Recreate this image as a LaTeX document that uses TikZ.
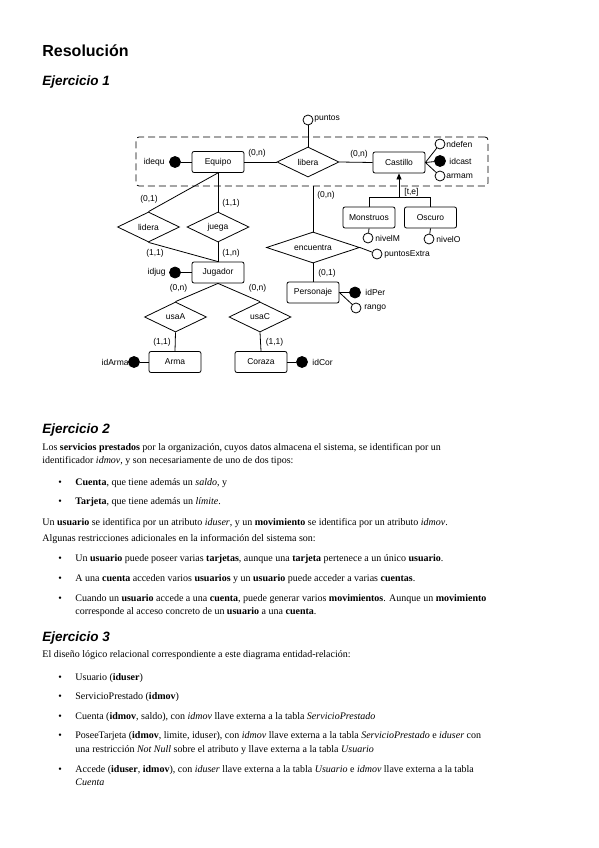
\documentclass[tikz,border=0pt]{standalone}
\usepackage{fontspec}
\setmainfont{Liberation Serif}
\newfontfamily\dsans{Liberation Sans}
\usetikzlibrary{shapes.geometric,arrows.meta}
\begin{document}
\begin{tikzpicture}[x=1pt,y=-1pt,
  every node/.style={inner sep=0pt},
  dg/.style={font=\dsans\fontsize{8.5}{10}\selectfont},
  ent/.style={dg,draw,rounded corners=2pt,minimum width=52pt,minimum height=21pt},
  rel/.style={dg,draw,diamond,aspect=3,minimum width=62pt,minimum height=30pt},
  attr/.style={draw,circle,minimum size=10pt,fill=white},
  key/.style={draw,circle,minimum size=11pt,fill=black},
  lab/.style={dg,anchor=west},
  card/.style={dg},
  body/.style={anchor=base west,font=\fontsize{10}{12}\selectfont},
  bul/.style={anchor=base west,font=\fontsize{10}{12}\selectfont},
  ttl/.style={anchor=base west,font=\dsans\bfseries\fontsize{16}{18}\selectfont},
  sttl/.style={anchor=base west,font=\dsans\bfseries\itshape\fontsize{13.5}{16}\selectfont},
  line width=0.8pt]
\useasboundingbox (0,0) rectangle (599,848);
\fill[white] (0,0) rectangle (599,848);

\node[ttl] (t0) at (42,57) {Resolución};
\node[sttl] (t1) at (42,86) {Ejercicio 1};

% aggregation box
\node[draw,dashed,dash pattern=on 7pt off 4pt,rounded corners=3pt,minimum width=352pt,minimum height=49pt] (agg) at (312,161.5) {};

% entities
\node[ent] (equ) at (218,162) {Equipo};
\node[ent] (cas) at (399,162.5) {Castillo};
\node[ent] (mon) at (369,217.5) {Monstruos};
\node[ent] (osc) at (430.5,217.5) {Oscuro};
\node[ent] (jug) at (218,272.5) {Jugador};
\node[ent] (per) at (313,292.5) {Personaje};
\node[ent] (arm) at (175,362) {Arma};
\node[ent] (cor) at (261,362) {Coraza};

% relationships
\node[rel] (lib) at (308,162) {libera};
\node[rel] (lid) at (148.5,227) {lidera};
\node[rel] (jue) at (218,227) {juega};
\node[rel,minimum width=93pt,minimum height=31pt] (enc) at (313,247.5) {encuentra};
\node[rel] (usa) at (175.5,317) {usaA};
\node[rel] (usc) at (260,317) {usaC};

% attributes
\node[attr] (pun) at (308,120) {};
\node[lab] at (314,119) {puntos};
\node[key] (ideq) at (175,162) {};
\node[dg,anchor=east] at (165,162) {idequ};
\node[attr] (ndef) at (440,144) {};
\node[lab] at (446,144) {ndefen};
\node[key] (idca) at (440,161) {};
\node[lab] at (449,161) {idcast};
\node[attr] (arma) at (440,176) {};
\node[lab] at (446,176) {armam};
\node[attr] (nvm) at (368,238) {};
\node[lab] at (375,238) {nivelM};
\node[attr] (nvo) at (429,239) {};
\node[lab] at (436,239) {nivelO};
\node[attr] (pex) at (377,254) {};
\node[lab] at (384,254) {puntosExtra};
\node[key] (idpe) at (355,292.5) {};
\node[lab] at (365,292.5) {idPer};
\node[attr] (ran) at (356,308) {};
\node[lab] at (364,308) {rango};
\node[key] (idju) at (175,272.5) {};
\node[dg,anchor=east] at (166,272.5) {idjug};
\node[key] (idar) at (134,362) {};
\node[dg,anchor=east] at (129,362) {idArma};
\node[key] (idco) at (302,362) {};
\node[lab] at (312,362) {idCor};

% connectors
\draw (pun) -- (lib.north);
\draw (ideq) -- (equ.west);
\draw (equ.east) -- (lib.west);
\draw (lib.east) -- (cas.west);
\draw (cas.east) -- (ndef);
\draw (cas.east) -- (idca);
\draw (cas.east) -- (arma);
\node[card] at (257,153) {(0,n)};
\node[card] at (359,154) {(0,n)};

\coordinate (isa) at (399,197.5);
\draw[-{Triangle[length=6pt,width=5pt]}] (isa) -- (cas.south);
\draw (mon.north) -- (mon.north |- isa) -- (osc.north |- isa) -- (osc.north);
\node[dg,anchor=west] at (404,192) {[t,e]};
\draw (mon.south) -- (nvm);
\draw (osc.south) -- (nvo);

\draw (enc.north) -- (enc.north |- agg.south);
\node[card] at (326,195) {(0,n)};
\draw (enc.east) -- (pex);
\draw (enc.south) -- (per.north);
\node[card] at (327,273) {(0,1)};
\draw (per.east) -- (idpe);
\draw (per.east) -- (ran);

\draw (equ.south) -- (lid.north);
\draw (equ.south) -- (jue.north);
\node[card] at (149,199) {(0,1)};
\node[card] at (231,203) {(1,1)};
\draw (lid.south) -- (jug.north);
\draw (jue.south) -- (jug.north);
\node[card] at (155,253) {(1,1)};
\node[card] at (231,253) {(1,n)};
\draw (idju) -- (jug.west);

\draw (jug.south) -- (usa.north);
\draw (jug.south) -- (usc.north);
\node[card] at (178.5,288) {(0,n)};
\node[card] at (257.5,288) {(0,n)};
\draw (usa.south) -- (arm.north);
\draw (usc.south) -- (cor.north);
\node[card] at (162,342) {(1,1)};
\node[card] at (274.5,342) {(1,1)};
\draw (idar) -- (arm.west);
\draw (cor.east) -- (idco);

% Ejercicio 2
\node[sttl] (t2) at (42,433) {Ejercicio 2};
\node[body] at (42,450) {Los \textbf{servicios prestados} por la organización, cuyos datos almacena el sistema, se identifican por un};
\node[body] at (42,463) {identificador \textit{idmov}, y son necesariamente de uno de dos tipos:};
\node[bul] at (58,485) {•};
\node[body] at (75,485) {\textbf{Cuenta}, que tiene además un \textit{saldo}, y};
\node[bul] at (58,504) {•};
\node[body] at (75,504) {\textbf{Tarjeta}, que tiene además un \textit{límite}.};
\node[body] at (42,525) {Un \textbf{usuario} se identifica por un atributo \textit{iduser}, y un \textbf{movimiento} se identifica por un atributo \textit{idmov}.};
\node[body] at (42,541) {Algunas restricciones adicionales en la información del sistema son:};
\node[bul] at (58,561) {•};
\node[body] at (75,561) {Un \textbf{usuario} puede poseer varias \textbf{tarjetas}, aunque una \textbf{tarjeta} pertenece a un único \textbf{usuario}.};
\node[bul] at (58,581) {•};
\node[body] at (75,581) {A una \textbf{cuenta} acceden varios \textbf{usuarios} y un \textbf{usuario} puede acceder a varias \textbf{cuentas}.};
\node[bul] at (58,601) {•};
\node[body] at (75,601) {Cuando un \textbf{usuario} accede a una \textbf{cuenta}, puede generar varios \textbf{movimientos}. Aunque un \textbf{movimiento}};
\node[body] at (75,614) {corresponde al acceso concreto de un \textbf{usuario} a una \textbf{cuenta}.};

% Ejercicio 3
\node[sttl] (t3) at (42,641) {Ejercicio 3};
\node[body] at (42,657) {El diseño lógico relacional correspondiente a este diagrama entidad-relación:};
\node[bul] at (58,680) {•};
\node[body] at (75,680) {Usuario (\textbf{iduser})};
\node[bul] at (58,699) {•};
\node[body] at (75,699) {ServicioPrestado (\textbf{idmov})};
\node[bul] at (58,719) {•};
\node[body] at (75,719) {Cuenta (\textbf{idmov}, saldo), con \textit{idmov} llave externa a la tabla \textit{ServicioPrestado}};
\node[bul] at (58,738) {•};
\node[body] at (75,738) {PoseeTarjeta (\textbf{idmov}, limite, iduser), con \textit{idmov} llave externa a la tabla \textit{ServicioPrestado} e \textit{iduser} con};
\node[body] at (75,752) {una restricción \textit{Not Null} sobre el atributo y llave externa a la tabla \textit{Usuario}};
\node[bul] at (58,772) {•};
\node[body] at (75,772) {Accede (\textbf{iduser}, \textbf{idmov}), con \textit{iduser} llave externa a la tabla \textit{Usuario} e \textit{idmov} llave externa a la tabla};
\node[body] at (75,785) {\textit{Cuenta}};
\end{tikzpicture}
\end{document}
